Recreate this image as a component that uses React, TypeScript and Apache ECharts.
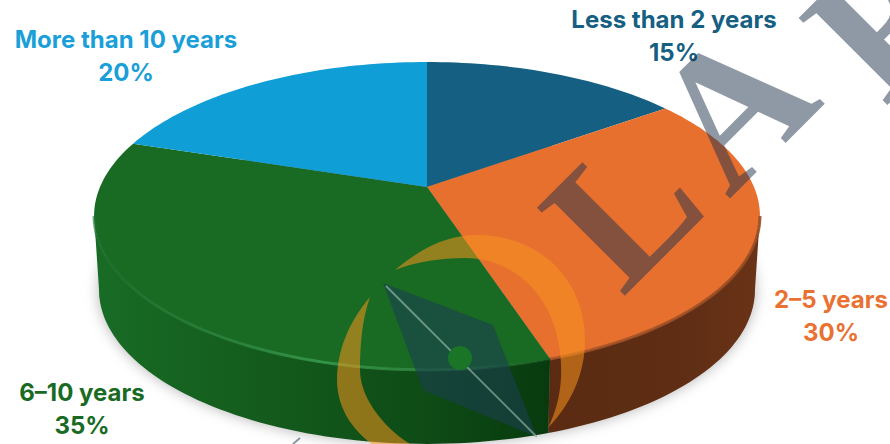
import React, { useEffect, useRef } from "react";
import * as echarts from "echarts";

// Share of respondents by length of experience, clockwise from twelve o'clock.
const categories = ["Less than 2 years", "2–5 years", "6–10 years", "More than 10 years"];
const shares = [15, 30, 35, 20];

const faceColors = ["#156082", "#E7702F", "#196B24", "#0F9ED5"];
const labelColors = ["#156082", "#E97132", "#196B24", "#1A9FD8"];
const labelAnchors = [
  [674, 36],
  [831, 316],
  [82, 409],
  [126, 56],
];

// Perspective disc: the hub is the projected centre of a tilted circle.
const HUB_X = 427;
const HUB_Y = 187;
const SPREAD_X = 327;
const SPREAD_Y = 148.5;
const PERSPECTIVE = 0.188;
const THICKNESS = 74;
const BASE_SHRINK = 0.985;
const WALL_FROM = Math.PI - Math.acos(PERSPECTIVE);
const WALL_TO = 2 * Math.PI - WALL_FROM;

function project(theta: number, drop = 0, shrink = 1): number[] {
  const w = 1 + PERSPECTIVE * Math.cos(theta);
  return [
    HUB_X + (shrink * SPREAD_X * Math.sin(theta)) / w,
    HUB_Y + drop - (SPREAD_Y * Math.cos(theta)) / w,
  ];
}

function arcPoints(from: number, to: number, drop = 0, shrink = 1): number[][] {
  const steps = Math.max(2, Math.ceil(((to - from) / Math.PI) * 120));
  const pts: number[][] = [];
  for (let i = 0; i <= steps; i++) {
    pts.push(project(from + ((to - from) * i) / steps, drop, shrink));
  }
  return pts;
}

const total = shares.reduce((a, b) => a + b, 0);
const toAngle = (v: number) => (v / total) * 2 * Math.PI;

const wallGradients: Record<number, any> = {
  1: new echarts.graphic.LinearGradient(0, 0, 1, 0, [
    { offset: 0, color: "#5A2B12" },
    { offset: 0.6, color: "#5E2D14" },
    { offset: 1, color: "#6A3317" },
  ]),
  2: new echarts.graphic.LinearGradient(0, 0, 1, 0, [
    { offset: 0, color: "#186C25" },
    { offset: 0.35, color: "#145C1D" },
    { offset: 0.75, color: "#0E4A15" },
    { offset: 1, color: "#083A0E" },
  ]),
};

const rimStrokes: Record<number, any> = {
  1: new echarts.graphic.LinearGradient(0, 0, 1, 0, [
    { offset: 0, color: "rgba(170,85,40,0.8)" },
    { offset: 1, color: "rgba(150,75,35,0.9)" },
  ]),
  2: new echarts.graphic.LinearGradient(0, 0, 1, 0, [
    { offset: 0, color: "rgba(30,110,45,0.6)" },
    { offset: 0.5, color: "rgba(52,150,72,0.95)" },
    { offset: 0.85, color: "rgba(45,130,60,0.7)" },
    { offset: 1, color: "rgba(20,90,30,0.4)" },
  ]),
};

function renderSlice(params: any, api: any) {
  const index: number = params.dataIndex;
  const before = shares.slice(0, index).reduce((a, b) => a + b, 0);
  const start = toAngle(before);
  const end = start + toAngle(api.value(0));
  const children: any[] = [];

  // Soft cast shadow goes under everything, so it is drawn with the first slice.
  if (index === 0) {
    children.push({
      type: "polygon",
      shape: { points: arcPoints(0, 2 * Math.PI, THICKNESS - 2, BASE_SHRINK) },
      style: { fill: "#888", shadowBlur: 14, shadowColor: "rgba(0,0,0,0.3)", shadowOffsetY: 2 },
    });
  }

  const wallFrom = Math.max(start, WALL_FROM);
  const wallTo = Math.min(end, WALL_TO);
  if (wallTo > wallFrom) {
    const top = arcPoints(wallFrom, wallTo);
    const bottom = arcPoints(wallFrom, wallTo, THICKNESS, BASE_SHRINK).reverse();
    children.push({
      type: "polygon",
      shape: { points: top.concat(bottom) },
      style: { fill: wallGradients[index], stroke: null },
    });
  }

  children.push({
    type: "polygon",
    shape: { points: [[HUB_X, HUB_Y], ...arcPoints(start, end)] },
    style: { fill: faceColors[index], stroke: null },
  });

  if (wallTo > wallFrom) {
    children.push({
      type: "polyline",
      shape: { points: arcPoints(wallFrom, wallTo) },
      style: { stroke: rimStrokes[index], lineWidth: 3, fill: null },
    });
  }

  children.push({
    type: "text",
    x: labelAnchors[index][0],
    y: labelAnchors[index][1],
    style: {
      text: `${categories[index]}\n${api.value(0)}%`,
      fill: labelColors[index],
      font: "700 24px Inter",
      align: "center",
      verticalAlign: "middle",
      lineHeight: 33,
    },
  });

  return { type: "group", children };
}

const CREST_MAJOR =
  "M395 270 C425 245 450 235 477 235 C540 235 585 280 585 340 C585 375 570 405 548 428 C562 400 564 370 558 340 C548 290 510 258 465 258 C440 258 415 262 395 270 Z";
const CREST_MINOR =
  "M370 297 C350 320 337 350 337 380 C337 405 350 428 372 444 L410 444 C380 425 360 395 360 370 C360 345 362 320 370 297 Z";
echarts.graphic.registerShape("crestMajor", echarts.graphic.extendPath(CREST_MAJOR, {}));
echarts.graphic.registerShape("crestMinor", echarts.graphic.extendPath(CREST_MINOR, {}));

const stampFill = "rgba(31,49,75,0.5)";
const stampLetter = (text: string, x: number, y: number) => ({
  type: "text",
  z: 20,
  x,
  y,
  rotation: Math.PI / 4,
  style: {
    text,
    fill: stampFill,
    font: "700 190px 'Liberation Serif'",
    align: "center",
    verticalAlign: "middle",
  },
});

export default function App() {
  const ref = useRef<HTMLDivElement>(null);

  useEffect(() => {
    const chart = echarts.init(ref.current!, null, { renderer: "svg" });
    chart.setOption({
      animation: false,
      backgroundColor: "#ffffff",
      series: [
        {
          type: "custom",
          coordinateSystem: "none",
          data: shares,
          renderItem: renderSlice,
          silent: true,
        },
      ],
      graphic: {
        elements: [
          stampLetter("L", 622, 208),
          stampLetter("A", 732, 106),
          stampLetter("P", 880, 22),
          {
            type: "line",
            z: 20,
            shape: { x1: 293, y1: 444, x2: 300, y2: 438 },
            style: { stroke: "rgba(31,49,75,0.5)", lineWidth: 2 },
          },
          { type: "crestMajor", z: 21, style: { fill: "rgba(247,148,29,0.55)" } },
          { type: "crestMinor", z: 21, style: { fill: "rgba(247,148,29,0.55)" } },
          {
            type: "polygon",
            z: 22,
            shape: { points: [[383, 283], [493, 325], [537, 437], [423, 390]] },
            style: { fill: "rgba(27,63,80,0.6)" },
          },
          {
            type: "line",
            z: 23,
            shape: { x1: 386, y1: 286, x2: 536, y2: 436 },
            style: { stroke: "rgba(190,225,200,0.5)", lineWidth: 1.8 },
          },
          {
            type: "circle",
            z: 24,
            shape: { cx: 460, cy: 358, r: 12 },
            style: { fill: "#1A7526" },
          },
        ],
      },
    });
    return () => chart.dispose();
  }, []);

  return (
    <div
      ref={ref}
      style={{ width: 890, height: 444, position: "absolute", left: 0, top: 0 }}
    />
  );
}
